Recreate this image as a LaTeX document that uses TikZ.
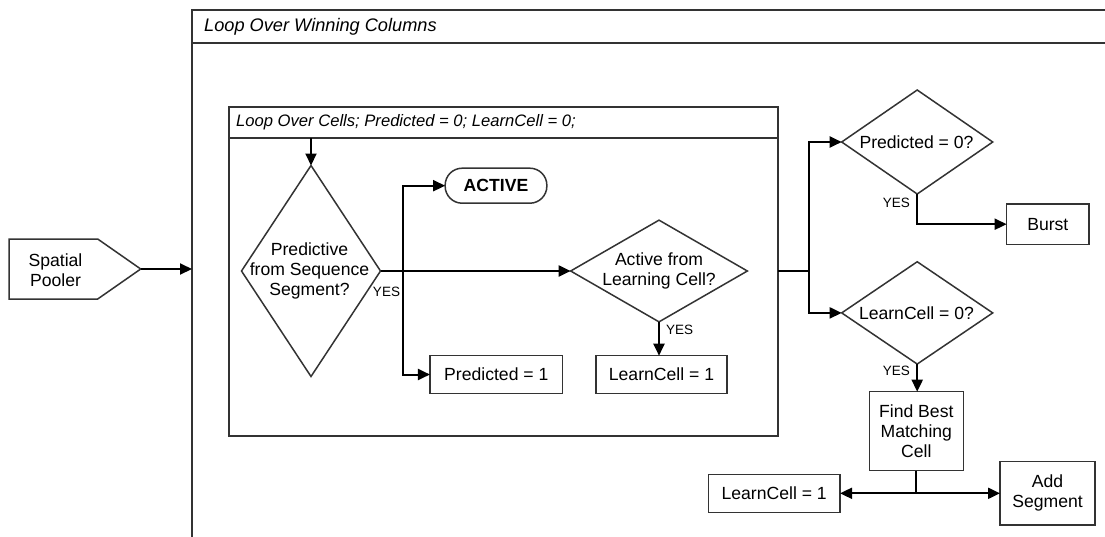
\documentclass[tikz,border=0pt]{standalone}
\usepackage{fontspec}
\setmainfont{Liberation Sans}
\usetikzlibrary{arrows.meta,shapes.geometric}
\definecolor{edge}{HTML}{333333}
\begin{document}
\begin{tikzpicture}[x=1pt,y=-1pt,
  base/.style={font=\fontsize{17.6}{20}\selectfont, text=black},
  box/.style={base, draw=edge, line width=1.5pt, rectangle, inner sep=0pt, outer sep=0pt, align=center},
  decision/.style={draw=edge, line width=1.5pt, diamond, inner sep=0pt, outer sep=0pt},
  dtext/.style={base, align=center, inner sep=0pt},
  yes/.style={font=\fontsize{13.5}{16}\selectfont, inner sep=0pt},
  link/.style={draw=black, line width=2pt},
  flow/.style={link, -{Triangle[length=12pt,width=11pt]}},
  frame/.style={draw=edge, line width=2pt, rectangle, inner sep=0pt, outer sep=0pt},
  head/.style={anchor=west, inner sep=0pt},
]
\useasboundingbox (0,0) rectangle (1105,536);
\fill[white] (0,0) rectangle (1105,536);
\clip (0,0) rectangle (1105,536);

% outer loop frame (runs past the page edges)
\node[frame, anchor=north west, minimum width=1000, minimum height=600] (outer) at (192,10) {};
\coordinate (ohdr) at (192,42.7);
\draw[edge, line width=2pt] (ohdr) -- (ohdr -| outer.east);
\node[head, font=\itshape\fontsize{18.2}{20}\selectfont] (outertitle) at (204,26.5) {Loop Over Winning Columns};

% inner loop frame
\node[frame, anchor=north west, minimum width=549.3, minimum height=329.3] (inner) at (228.7,106.7) {};
\coordinate (ihdr) at (228.7,138);
\draw[edge, line width=2pt] (ihdr) -- (ihdr -| inner.east);
\node[head, font=\itshape\fontsize{16.6}{20}\selectfont] (innertitle) at (236,122.5) {Loop Over Cells; Predicted = 0; LearnCell = 0;};

% input block
\draw[edge, line width=1.5pt, fill=white] (9,239) -- (97.7,239) -- (140.7,269) -- (97.7,299) -- (9,299) -- cycle;
\node[dtext] (pooler) at (55.5,270) {Spatial\\Pooler};
\coordinate (poolertip) at (140.7,269);
\draw[flow] (poolertip) -- (poolertip -| outer.west);

% per-cell decisions
\node[decision, minimum width=139, minimum height=211] (d1) at (311,271) {};
\node[dtext] (d1t) at (309.5,271) {Predictive\\from Sequence\\Segment?};
\draw[flow] (d1.north |- ihdr) -- (d1.north);

\node[box, rounded corners=17pt, minimum width=101.7, minimum height=35, font=\bfseries\fontsize{17.6}{20}\selectfont] (active) at (496,185.7) {ACTIVE};
\node[box, minimum width=132.7, minimum height=37.6] (pred1) at (496.3,374.5) {Predicted = 1};

\node[decision, minimum width=176.7, minimum height=101.7] (d2) at (659,271) {};
\node[dtext] (d2t) at (659,271) {Active from\\Learning Cell?};
\node[box, minimum width=130.6, minimum height=37.6] (lc1) at (661.5,374.5) {LearnCell = 1};

\coordinate (split1) at (403.3,271);
\draw[flow] (d1.east) -- (d2.west);
\draw[flow] (split1) |- (active.west);
\draw[flow] (split1) |- (pred1.west);
\node[yes] (yes1) at (386.5,292) {YES};

\draw[flow] (d2.south) -- (d2.south |- lc1.north);
\node[yes] (yes2) at (679.5,330) {YES};

% per-column decisions
\node[decision, minimum width=151, minimum height=104] (p0) at (917.2,142) {};
\node[dtext] (p0t) at (916.5,142) {Predicted = 0?};
\node[decision, minimum width=151, minimum height=102.3] (l0) at (917.2,312.9) {};
\node[dtext] (l0t) at (916.5,313) {LearnCell = 0?};

\path (inner.east) ++(31,0) coordinate (split2);
\draw[link] (inner.east) -- (split2);
\draw[flow] (split2) |- (p0.west);
\draw[flow] (split2) |- (l0.west);

\node[box, minimum width=82.3, minimum height=40.3] (burst) at (1047.8,224.2) {Burst};
\draw[flow] (p0.south) |- (burst.west);
\node[yes] (yes3) at (896.3,203.3) {YES};

\node[box, minimum width=94, minimum height=79] (fbm) at (916.3,431.2) {Find Best\\Matching\\Cell};
\draw[flow] (l0.south) -- (l0.south |- fbm.north);
\node[yes] (yes4) at (896.3,371) {YES};

\node[box, minimum width=131.7, minimum height=37.7] (lc2) at (774.2,493.5) {LearnCell = 1};
\node[box, minimum width=95, minimum height=63.3] (addseg) at (1047.5,493.3) {Add\\Segment};

\path (fbm.south) ++(0,22.6) coordinate (split3);
\draw[link] (fbm.south) -- (split3);
\draw[flow] (split3) -- (split3 -| lc2.east);
\draw[flow] (split3) -- (split3 -| addseg.west);
\end{tikzpicture}
\end{document}
